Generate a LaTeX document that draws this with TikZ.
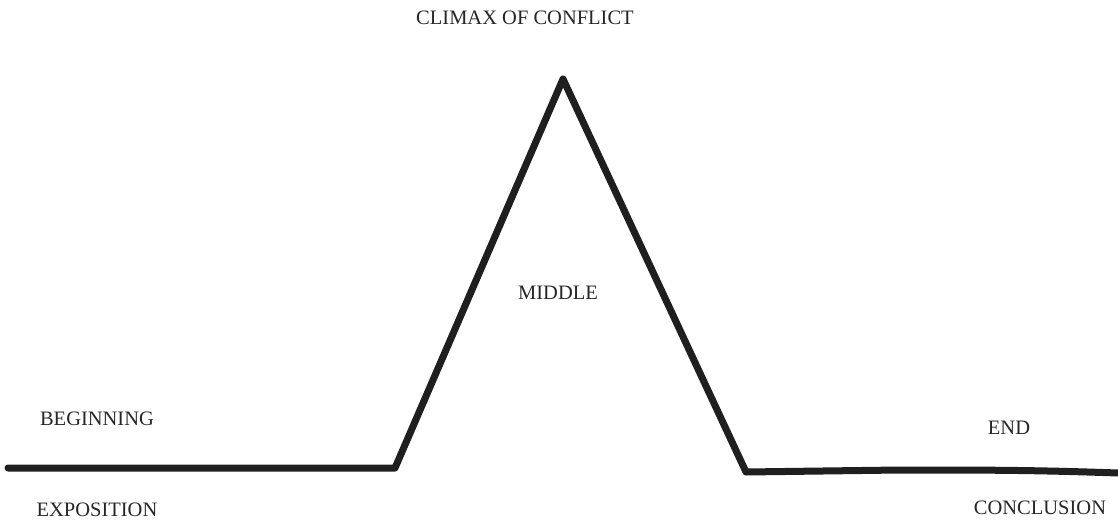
\documentclass[tikz,border=0pt]{standalone}
\usepackage{fontspec}
\setmainfont{Liberation Serif}
\begin{document}
\begin{tikzpicture}[x=1pt,y=-1pt,
  lbl/.style={font=\fontsize{20.5}{24}\selectfont, text=black!85, inner sep=0pt},
  arc/.style={line width=7pt, line cap=round, line join=round, draw=black!88}]
\useasboundingbox (0,0) rectangle (1118,521);
\coordinate (start) at (8,468);
\coordinate (rise) at (395,468);
\coordinate (peak) at (563,79);
\coordinate (fall) at (746,472);
\coordinate (mid) at (900,470);
\coordinate (finish) at (1118,473);
\draw[arc] (start) -- (rise) -- (peak) -- (fall) -- (mid) to[out=0,in=178] (finish);
\node[lbl] (climax) at (525,18) {CLIMAX OF CONFLICT};
\node[lbl] (middle) at (558,293) {MIDDLE};
\node[lbl] (beginning) at (97,419) {BEGINNING};
\node[lbl] (exposition) at (97,510) {EXPOSITION};
\node[lbl] (end) at (1009,428) {END};
\node[lbl] (conclusion) at (1040,508) {CONCLUSION};
\end{tikzpicture}
\end{document}
